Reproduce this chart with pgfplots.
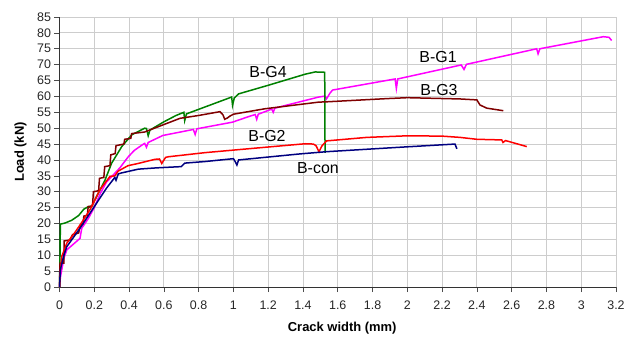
\documentclass[border=0pt]{standalone}
\usepackage{pgfplots}
\pgfplotsset{compat=1.18}
\usepackage{fontspec}
\setmainfont{Liberation Sans}
\definecolor{cG1}{RGB}{255,0,255}
\definecolor{cG4}{RGB}{0,128,0}
\definecolor{cG3}{RGB}{128,0,0}
\definecolor{cG2}{RGB}{255,0,0}
\definecolor{cCon}{RGB}{0,0,128}
\definecolor{gridc}{RGB}{205,205,205}
\begin{document}
\begin{tikzpicture}
\useasboundingbox (0,0) rectangle (634bp,338bp);
\begin{axis}[
  at={(59.5bp,51bp)}, anchor=south west,
  scale only axis, width=556.5bp, height=270bp,
  xmin=0, xmax=3.2, ymin=0, ymax=85,
  xtick={0,0.2,...,3.2}, ytick={0,5,...,85},
  axis lines=left, axis line style={-, black!80, line width=0.8bp},
  grid=major, major grid style={gridc, line width=0.8bp},
  tick style={black!70, line width=0.6bp},
  tick align=outside, major tick length=5bp,
  /pgf/number format/assume math mode=true,
  xticklabel style={font=\fontsize{12.5}{14}\selectfont, text=black!85, yshift=-5bp},
  yticklabel style={font=\fontsize{12.5}{14}\selectfont, text=black!85},
  xticklabel={\pgfmathprintnumber[fixed,precision=1]{\tick}},
  xlabel={\bfseries Crack width (mm)},
  ylabel={\bfseries Load (kN)},
  label style={font=\fontsize{13}{15}\selectfont},
  xlabel style={at={(axis description cs:0.508,0)}, anchor=center, yshift=-41bp},
  ylabel style={at={(axis description cs:0,0.5)}, anchor=center, yshift=39bp},
  clip=false,
]
% B-G1
\addplot[cG1, line width=1.5bp] coordinates {
(0,0) (0.005,3) (0.013,5.4) (0.025,9) (0.042,11.7) (0.08,13.5) (0.118,15.3) (0.128,18.5)
(0.165,21.5) (0.2,25) (0.235,29.5) (0.27,33) (0.347,37.5) (0.394,40.9) (0.43,43.0)
(0.48,44.9) (0.49,45.2) (0.5,44.0) (0.51,45.5) (0.594,47.7) (0.77,49.6) (0.78,48.0)
(0.79,49.8) (0.995,51.9) (1.08,53.5) (1.125,54.3) (1.134,52.8) (1.143,54.4) (1.22,56.0)
(1.229,55.0) (1.238,56.3) (1.49,59.8) (1.527,60.1) (1.535,59.2) (1.555,61) (1.57,62)
(1.93,65.5) (1.937,62.5) (1.945,65.5) (2.31,69.9) (2.326,68.5) (2.34,70.1)
(2.744,75.0) (2.752,73.4) (2.762,75.0) (3.127,78.8) (3.16,78.6) (3.175,77.6)
};
% B-G4
\addplot[cG4, line width=1.5bp] coordinates {
(0,0) (0.003,10) (0.005,19.8) (0.03,20.1) (0.07,21) (0.11,22.5) (0.14,24.5) (0.166,25.3)
(0.18,25) (0.2,27) (0.262,33.7) (0.3,39) (0.358,44.2) (0.415,47.9) (0.49,50) (0.5,49.9)
(0.51,47.6) (0.52,49.4) (0.6,52) (0.67,54) (0.715,55) (0.72,52.4) (0.73,54.5) (0.99,59.8)
(0.995,57.2) (1.005,59.5) (1.03,60.8) (1.2,63.5) (1.413,67) (1.47,67.7) (1.525,67.6)
(1.527,42.2)
};
% B-G3
\addplot[cG3, line width=1.5bp] coordinates {
(0,0) (0.003,7.5) (0.025,7.5) (0.027,14.5) (0.06,14.8) (0.075,16.5) (0.11,17) (0.12,19.5)
(0.135,19.8) (0.14,22.3) (0.16,22.6) (0.165,25.3) (0.19,25.6) (0.195,30) (0.225,30.3)
(0.23,34.2) (0.255,34.5) (0.26,37.9) (0.29,38.2) (0.295,41.6) (0.32,42) (0.325,44.5)
(0.37,45) (0.375,46.5) (0.41,46.8) (0.415,48.3) (0.49,48.8) (0.56,50.3) (0.693,53.1)
(0.8,54) (0.923,55.2) (0.94,54.2) (0.95,52.8) (0.965,53.2) (0.98,53.8) (1.0,54.4)
(1.18,56.1) (1.49,58.2) (1.536,58.3) (1.88,59.3) (2.0,59.6) (2.303,59.2) (2.4,58.9)
(2.418,57.3) (2.457,56.3) (2.552,55.5)
};
% B-G2
\addplot[cG2, line width=1.5bp] coordinates {
(0,0) (0.005,5) (0.013,9.6) (0.042,13.8) (0.08,16.5) (0.118,19.5) (0.175,24.3) (0.232,30.6)
(0.29,34.8) (0.318,35) (0.338,36.5) (0.394,38.2) (0.453,38.9) (0.549,40.2) (0.575,40.3)
(0.588,38.9) (0.61,40.8) (0.626,41) (0.837,42.3) (1.185,44) (1.413,45.1) (1.46,45)
(1.475,44.5) (1.492,42.6) (1.51,44.5) (1.536,46.0) (1.767,47.1) (2.0,47.6) (2.2,47.5)
(2.303,47.1) (2.4,46.5) (2.543,46.3) (2.55,45.5) (2.565,46.1) (2.687,44.2)
};
% B-con
\addplot[cCon, line width=1.5bp] coordinates {
(0,0) (0.005,5.4) (0.023,9.6) (0.042,12.7) (0.118,18.5) (0.194,24.8) (0.27,31.1)
(0.318,34.5) (0.325,33.6) (0.338,35.6) (0.356,35.9) (0.453,37.1) (0.556,37.5) (0.7,37.9)
(0.72,39) (0.837,39.5) (1.0,40.4) (1.01,39.5) (1.02,38.4) (1.03,40) (1.383,41.9)
(1.536,42.6) (1.958,44) (2.274,45) (2.285,43.5)
};
\node[font=\fontsize{16}{18}\selectfont] at (axis cs:1.199,67.7) {B-G4};
\node[font=\fontsize{16}{18}\selectfont] at (axis cs:2.177,72.4) {B-G1};
\node[font=\fontsize{16}{18}\selectfont] at (axis cs:2.182,62.0) {B-G3};
\node[font=\fontsize{16}{18}\selectfont] at (axis cs:1.193,47.5) {B-G2};
\node[font=\fontsize{16}{18}\selectfont] at (axis cs:1.486,37.5) {B-con};
\end{axis}
\end{tikzpicture}
\end{document}
